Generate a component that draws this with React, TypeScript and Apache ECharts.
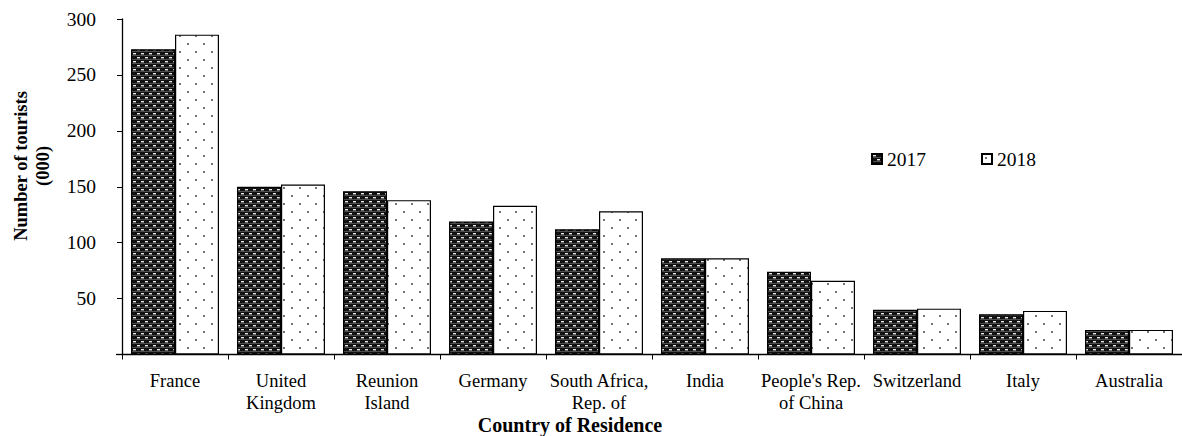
import React, { useEffect, useRef } from "react";
import * as echarts from "echarts";

const categories = [
  "France",
  "United\nKingdom",
  "Reunion\nIsland",
  "Germany",
  "South Africa,\nRep. of",
  "India",
  "People's Rep.\nof China",
  "Switzerland",
  "Italy",
  "Australia",
];
const values2017 = [273, 150, 146, 119, 112, 86, 74, 40, 36, 22];
const values2018 = [286, 152, 138, 133, 128, 86, 66, 41, 39, 22];
const yTicks = { min: 0, max: 300, interval: 50 };

function makeDarkPattern(): HTMLCanvasElement {
  const c = document.createElement("canvas");
  c.width = 8;
  c.height = 8;
  const ctx = c.getContext("2d")!;
  ctx.fillStyle = "#111";
  ctx.fillRect(0, 0, 8, 8);
  ctx.fillStyle = "#e8e8e8";
  ctx.fillRect(1, 1, 3, 1.4);
  ctx.fillRect(5, 5, 3, 1.4);
  ctx.fillStyle = "#777";
  ctx.fillRect(0, 3, 8, 0.6);
  ctx.fillRect(0, 7, 8, 0.6);
  return c;
}

function makeDotPattern(): HTMLCanvasElement {
  const c = document.createElement("canvas");
  c.width = 16;
  c.height = 16;
  const ctx = c.getContext("2d")!;
  ctx.fillStyle = "#fff";
  ctx.fillRect(0, 0, 16, 16);
  ctx.fillStyle = "#333";
  ctx.beginPath();
  ctx.arc(4, 4, 0.9, 0, Math.PI * 2);
  ctx.fill();
  ctx.beginPath();
  ctx.arc(12, 12, 0.9, 0, Math.PI * 2);
  ctx.fill();
  return c;
}

export default function App() {
  const ref = useRef<HTMLDivElement>(null);
  useEffect(() => {
    if (!ref.current) return;
    const chart = echarts.init(ref.current, null, { renderer: "svg" });
    const font = "'Liberation Serif', 'Times New Roman', serif";
    const dark = { image: makeDarkPattern(), repeat: "repeat" } as any;
    const dots = { image: makeDotPattern(), repeat: "repeat" } as any;
    chart.setOption({
      animation: false,
      backgroundColor: "#fff",
      textStyle: { fontFamily: font },
      grid: { left: 122, right: 0, top: 19, bottom: 81.5, containLabel: false },
      legend: {
        left: 866,
        top: 144,
        icon: "rect",
        itemWidth: 10,
        itemHeight: 10,
        itemGap: 55,
        textStyle: { fontFamily: font, fontSize: 19.5, color: "#000" },
        data: ["2017", "2018"],
      },
      xAxis: {
        type: "category",
        data: categories,
        axisLine: { lineStyle: { color: "#000", width: 1.3 } },
        axisTick: { show: true, length: 5, lineStyle: { color: "#000" } },
        axisLabel: {
          fontFamily: font,
          fontSize: 18.5,
          color: "#000",
          lineHeight: 22,
          margin: 15,
          interval: 0,
        },
      },
      yAxis: {
        type: "value",
        min: yTicks.min,
        max: yTicks.max,
        interval: yTicks.interval,
        splitLine: { show: false },
        axisLine: { show: true, lineStyle: { color: "#000", width: 1.3 } },
        axisTick: { show: true, length: 5, lineStyle: { color: "#000" } },
        axisLabel: {
          fontFamily: font,
          fontSize: 19.5,
          color: "#000",
          margin: 26,
          showMinLabel: false,
        },
      },
      graphic: [
        {
          type: "text",
          x: 32,
          y: 166,
          rotation: Math.PI / 2,
          style: {
            text: "Number of tourists\n(000)",
            fontFamily: font,
            fontSize: 18.5,
            fontWeight: "bold",
            fill: "#000",
            align: "center",
            verticalAlign: "middle",
            lineHeight: 22,
          },
        },
        {
          type: "text",
          x: 570,
          y: 425,
          style: {
            text: "Country of Residence",
            fontFamily: font,
            fontSize: 20,
            fontWeight: "bold",
            fill: "#000",
            align: "center",
            verticalAlign: "middle",
          },
        },
        {
          type: "line",
          shape: { x1: 116, y1: 354.5, x2: 122, y2: 354.5 },
          style: { stroke: "#000", lineWidth: 1.3 },
        },
      ],
      series: [
        {
          name: "2017",
          type: "bar",
          data: values2017,
          barWidth: 44,
          barGap: "0%",
          itemStyle: { color: dark, borderColor: "#000", borderWidth: 1.2 },
        },
        {
          name: "2018",
          type: "bar",
          data: values2018,
          barWidth: 44,
          barGap: "0%",
          itemStyle: { color: dots, borderColor: "#000", borderWidth: 1.2 },
        },
      ],
    });
    return () => chart.dispose();
  }, []);
  return (
    <div
      ref={ref}
      style={{ position: "fixed", left: 0, top: 0, width: 1182, height: 436 }}
    />
  );
}
